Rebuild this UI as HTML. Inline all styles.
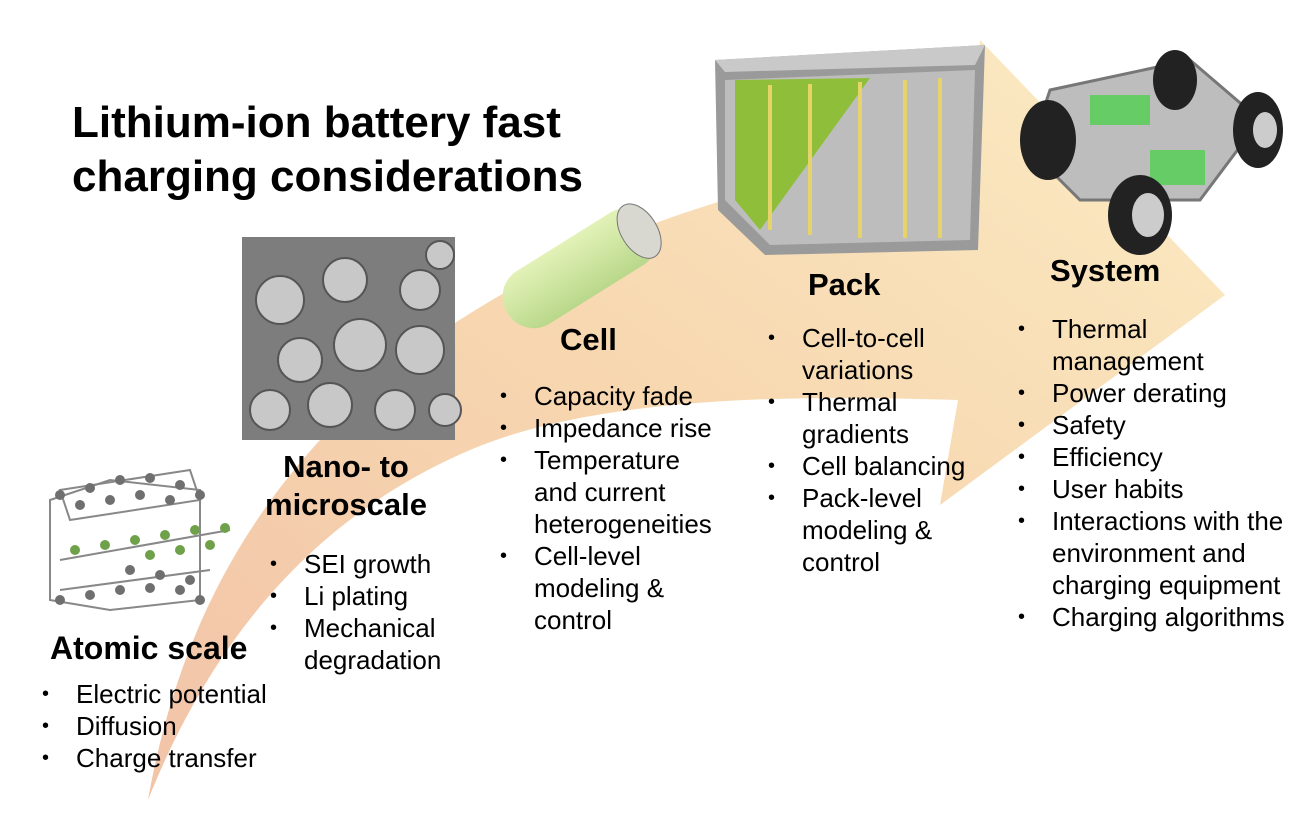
<!DOCTYPE html>
<html><head><meta charset="utf-8"><style>
html,body{margin:0;padding:0;background:#fff;}
body{width:1308px;height:830px;position:relative;overflow:hidden;font-family:"Liberation Sans",Arial,sans-serif;color:#000;}
.t{position:absolute;font-weight:bold;}
ul{position:absolute;margin:0;padding:0;list-style:none;font-size:26px;line-height:32px;white-space:nowrap;}
li{position:relative;padding-left:34px;}
li:before{content:"•";position:absolute;left:0;font-size:20px;}
</style></head><body>
<svg width="1308" height="830" style="position:absolute;left:0;top:0">
<defs>
<linearGradient id="g" x1="0" y1="1" x2="1" y2="0">
<stop offset="0" stop-color="#f2c3a8"/><stop offset="0.5" stop-color="#f7d7b0"/><stop offset="1" stop-color="#fbecc4"/>
</linearGradient>
<linearGradient id="cyl" x1="0" y1="0" x2="0" y2="1"><stop offset="0" stop-color="#e3f2b8"/><stop offset="1" stop-color="#b9d88a"/></linearGradient>
</defs>
<path d="M148,800 C180,620 260,470 430,340 C600,220 800,170 975,150 L980,40 L1225,295 L940,505 L958,400 C800,395 600,395 470,450 C330,510 220,620 148,800 Z" fill="url(#g)"/>
<rect x="242" y="237" width="213" height="203" fill="#7d7d7d"/>
<g fill="#c8c8c8" stroke="#555" stroke-width="2">
<circle cx="280" cy="300" r="24"/><circle cx="345" cy="280" r="22"/><circle cx="420" cy="290" r="20"/><circle cx="300" cy="360" r="22"/><circle cx="360" cy="345" r="26"/><circle cx="420" cy="350" r="24"/><circle cx="270" cy="410" r="20"/><circle cx="330" cy="405" r="22"/><circle cx="395" cy="410" r="20"/><circle cx="445" cy="410" r="16"/><circle cx="440" cy="255" r="14"/></g>
<g transform="rotate(-32 575 270)"><rect x="495" y="240" width="170" height="62" rx="30" fill="url(#cyl)"/><ellipse cx="650" cy="271" rx="18" ry="30" fill="#d8d8d0" stroke="#777"/></g>
<polygon points="715,60 985,45 978,250 765,255 718,210" fill="#9a9a9a"/>
<polygon points="715,60 985,45 975,65 725,72" fill="#c9c9c9"/>
<polygon points="725,80 975,70 970,240 770,245 725,200" fill="#bdbdbd"/>
<polygon points="735,80 870,78 760,230 735,200" fill="#8fbf3a"/>
<g stroke="#e6d36a" stroke-width="4"><line x1="770" y1="85" x2="770" y2="230"/><line x1="810" y1="84" x2="810" y2="235"/><line x1="860" y1="82" x2="860" y2="238"/><line x1="905" y1="80" x2="905" y2="238"/><line x1="940" y1="78" x2="940" y2="238"/></g>
<polygon points="1050,90 1190,60 1260,120 1200,200 1080,200 1030,150" fill="#bdbdbd" stroke="#777" stroke-width="3"/>
<rect x="1090" y="95" width="60" height="30" fill="#6c6"/><rect x="1150" y="150" width="55" height="35" fill="#6c6"/>
<ellipse cx="1048" cy="140" rx="28" ry="40" fill="#222"/><ellipse cx="1175" cy="80" rx="22" ry="30" fill="#222"/>
<ellipse cx="1258" cy="130" rx="25" ry="38" fill="#222"/><ellipse cx="1140" cy="215" rx="32" ry="40" fill="#222"/>
<ellipse cx="1148" cy="215" rx="16" ry="22" fill="#ccc"/><ellipse cx="1265" cy="130" rx="12" ry="18" fill="#ccc"/>
<g stroke="#888" stroke-width="2" fill="none">
<path d="M50,500 L110,480 L200,490 L200,600 L110,610 L50,600 Z"/>
<path d="M60,490 L190,470 L200,500 L70,520 Z M60,560 L230,530 M60,590 L210,570"/></g>
<g fill="#6f6f6f"><circle cx="60" cy="495" r="5"/><circle cx="90" cy="488" r="5"/><circle cx="120" cy="480" r="5"/><circle cx="150" cy="478" r="5"/><circle cx="180" cy="485" r="5"/><circle cx="200" cy="495" r="5"/><circle cx="80" cy="505" r="5"/><circle cx="110" cy="500" r="5"/><circle cx="140" cy="495" r="5"/><circle cx="170" cy="500" r="5"/>
<circle cx="60" cy="600" r="5"/><circle cx="90" cy="595" r="5"/><circle cx="120" cy="590" r="5"/><circle cx="150" cy="588" r="5"/><circle cx="180" cy="590" r="5"/><circle cx="200" cy="600" r="5"/><circle cx="130" cy="570" r="5"/><circle cx="160" cy="575" r="5"/><circle cx="190" cy="580" r="5"/></g>
<g fill="#6fa04a"><circle cx="75" cy="550" r="5"/><circle cx="105" cy="545" r="5"/><circle cx="135" cy="540" r="5"/><circle cx="165" cy="535" r="5"/><circle cx="195" cy="530" r="5"/><circle cx="225" cy="528" r="5"/><circle cx="150" cy="555" r="5"/><circle cx="180" cy="550" r="5"/><circle cx="210" cy="545" r="5"/></g>
</svg>
<div class="t" style="left:72px;top:96px;font-size:44px;line-height:54px;">Lithium-ion battery fast<br>charging considerations</div>
<div class="t" style="left:50px;top:630px;font-size:32px;">Atomic scale</div>
<ul style="left:42px;top:678px;"><li>Electric potential</li><li>Diffusion</li><li>Charge transfer</li></ul>
<div class="t" style="left:248px;top:448px;font-size:31px;line-height:38px;text-align:center;width:196px;">Nano- to<br>microscale</div>
<ul style="left:270px;top:548px;"><li>SEI growth</li><li>Li plating</li><li>Mechanical<br>degradation</li></ul>
<div class="t" style="left:560px;top:322px;font-size:31px;">Cell</div>
<ul style="left:500px;top:380px;"><li>Capacity fade</li><li>Impedance rise</li><li>Temperature<br>and current<br>heterogeneities</li><li>Cell-level<br>modeling &amp;<br>control</li></ul>
<div class="t" style="left:808px;top:267px;font-size:31px;">Pack</div>
<ul style="left:768px;top:322px;"><li>Cell-to-cell<br>variations</li><li>Thermal<br>gradients</li><li>Cell balancing</li><li>Pack-level<br>modeling &amp;<br>control</li></ul>
<div class="t" style="left:1050px;top:253px;font-size:31px;">System</div>
<ul style="left:1018px;top:313px;"><li>Thermal<br>management</li><li>Power derating</li><li>Safety</li><li>Efficiency</li><li>User habits</li><li>Interactions with the<br>environment and<br>charging equipment</li><li>Charging algorithms</li></ul>
</body></html>
